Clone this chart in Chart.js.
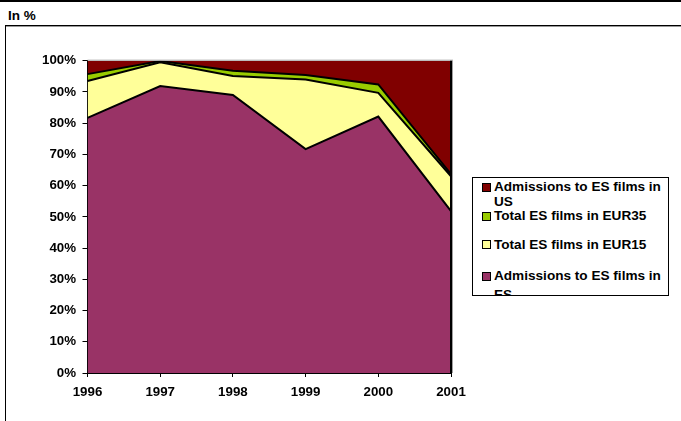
<!DOCTYPE html>
<html>
<head>
<meta charset="utf-8">
<script src="https://cdn.jsdelivr.net/npm/chart.js@4.4.1/dist/chart.umd.min.js"></script>
<style>
  html, body { margin:0; padding:0; background:#fff; width:681px; height:421px; overflow:hidden; }
  body { position:relative; font-family:"Liberation Sans", Arial, sans-serif; }
  #topbar { position:absolute; left:0; top:0; width:681px; height:2px; background:#000; }
  #title { position:absolute; left:8px; top:7px; font-weight:bold; font-size:13.5px; line-height:17px; color:#000; }
  #frame { position:absolute; left:5px; top:25px; width:800px; height:600px; border-top:1px solid #000; border-left:1px solid #000; box-shadow: 0 1px 0 #999 inset; }
  #c { position:absolute; left:0; top:0; }
  #legend { position:absolute; left:472px; top:177px; width:195px; height:117px; border:1px solid #000; background:#fff; overflow:hidden; }
  .item { position:absolute; left:21px; font-weight:bold; font-size:13.6px; line-height:15.4px; color:#000; white-space:nowrap; }
  .mk { position:absolute; left:9px; width:7px; height:7px; border:1px solid #000; }
</style>
</head>
<body>
<div id="topbar"></div>
<div id="title">In %</div>
<div id="frame"></div>
<canvas id="c" width="681" height="421"></canvas>
<div id="legend"></div>
<script>
// ---- data ----
const years = ['1996', '1997', '1998', '1999', '2000', '2001'];
const admissionsES = [81.7, 91.9, 89.0, 71.7, 82.1, 51.8];
const totalEUR15 = [11.8, 7.6, 6.1, 22.3, 7.6, 11.2];
const totalEUR35 = [2.2, 0.4, 1.7, 1.4, 2.7, 0.7];
const admissionsUS = [4.3, 0.1, 3.2, 4.6, 7.6, 36.3];
const seriesNames = ['Admissions to ES films in ES', 'Total ES films in EUR15', 'Total ES films in EUR35', 'Admissions to ES films in US'];
const seriesColors = ['#993366', '#FFFF99', '#99CC00', '#800000'];
const yTicks = [0, 10, 20, 30, 40, 50, 60, 70, 80, 90, 100];

const seriesData = [admissionsES, totalEUR15, totalEUR35, admissionsUS];

const datasets = seriesData.map((d, i) => ({
  label: seriesNames[i],
  data: d,
  backgroundColor: seriesColors[i],
  borderColor: '#000',
  borderWidth: i === 3 ? 0 : 2,
  pointRadius: 0,
  tension: 0,
  fill: i === 0 ? 'origin' : '-1'
}));

const frameLines = {
  id: 'frameLines',
  afterDatasetsDraw(chart) {
    const a = chart.chartArea, ctx = chart.ctx;
    ctx.save();
    ctx.strokeStyle = '#a0a0a0';
    ctx.lineWidth = 1;
    ctx.beginPath();
    ctx.moveTo(a.left, a.top - 0.5);
    ctx.lineTo(a.right + 2, a.top - 0.5);
    ctx.moveTo(a.right + 1.5, a.top);
    ctx.lineTo(a.right + 1.5, a.bottom);
    ctx.stroke();
    ctx.strokeStyle = '#000';
    ctx.lineWidth = 2;
    ctx.beginPath();
    ctx.moveTo(a.right, a.top);
    ctx.lineTo(a.right, a.bottom);
    ctx.stroke();
    ctx.restore();
  }
};

const tickFont = { family: '"Liberation Sans", Arial, sans-serif', size: 13.3, weight: 'bold' };

new Chart(document.getElementById('c'), {
  type: 'line',
  data: { labels: years, datasets },
  options: {
    responsive: false,
    animation: false,
    devicePixelRatio: 1,
    layout: { padding: { top: 60.7, right: 230, bottom: 0, left: 0 } },
    plugins: { legend: { display: false }, tooltip: { enabled: false }, filler: { propagate: false } },
    scales: {
      x: {
        type: 'category',
        offset: false,
        grid: { display: true, drawOnChartArea: false, drawTicks: true, tickLength: 4, color: '#000', lineWidth: 1 },
        border: { display: true, color: '#000', width: 1 },
        ticks: { color: '#000', font: tickFont, padding: 7.5, maxRotation: 0, autoSkip: false },
        afterFit(s) { s.height = 48; }
      },
      y: {
        stacked: true,
        min: 0, max: 100,
        afterBuildTicks(s) { s.ticks = yTicks.map(v => ({ value: v })); },
        grid: { display: true, drawOnChartArea: false, drawTicks: true, tickLength: 5, color: '#000', lineWidth: 1 },
        border: { display: true, color: '#000', width: 1 },
        ticks: { color: '#000', font: tickFont, padding: 6.5, callback: v => v + '%' },
        afterFit(s) { s.width = 87.5; }
      }
    }
  },
  plugins: [frameLines]
});

// ---- HTML legend (reverse order, like the reference) ----
const legendLines = [
  ['Admissions to ES films in', 'US'],
  ['Total ES films in EUR35'],
  ['Total ES films in EUR15'],
  ['Admissions to ES films in', 'ES']
];
const legendOrder = [3, 2, 1, 0];
const legendTops = [1, 30, 58.5, 88];
const legend = document.getElementById('legend');
legendOrder.forEach((si, k) => {
  const it = document.createElement('div');
  it.className = 'item';
  it.style.top = legendTops[k] + 'px';
  it.style.lineHeight = (k === 3 ? 19 : 15.4) + 'px';
  it.innerHTML = legendLines[k].join('<br>');
  legend.appendChild(it);
  const mk = document.createElement('div');
  mk.className = 'mk';
  mk.style.background = seriesColors[si];
  mk.style.top = (legendTops[k] + (k === 3 ? 5.5 : 3.5)) + 'px';
  legend.appendChild(mk);
});
</script>
</body>
</html>
